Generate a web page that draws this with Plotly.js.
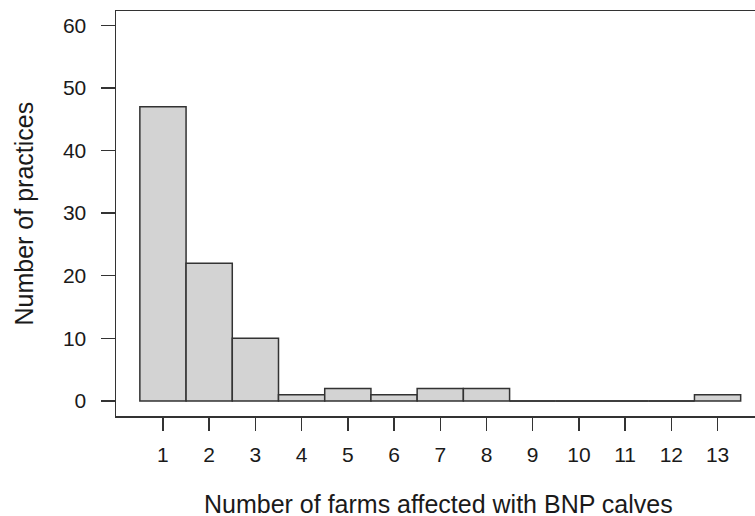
<!DOCTYPE html>
<html>
<head>
<meta charset="utf-8">
<script src="https://cdn.plot.ly/plotly-3.0.1.min.js"></script>
<style>html,body{margin:0;padding:0;background:#fff;}#chart{width:755px;height:516px;}</style>
</head>
<body>
<div id="chart"></div>
<script>
var farmsAffected = [1, 2, 3, 4, 5, 6, 7, 8, 9, 10, 11, 12, 13];
var practiceCounts = [47, 22, 10, 1, 2, 1, 2, 2, 0, 0, 0, 0, 1];
var yTickValues = [0, 10, 20, 30, 40, 50, 60];

var xTitle = 'Number of farms affected with BNP calves';
var yTitle = 'Number of practices';

// zero-height bars drawn as flat outlines at the baseline
var zx = [], zy = [];
farmsAffected.forEach(function (c, i) {
  if (practiceCounts[i] === 0) {
    zx.push(c - 0.5, c + 0.5, null);
    zy.push(0, 0, null);
  }
});

var lineColor = '#333333';
var textColor = '#1a1a1a';
var font = 'Liberation Sans, Arial, sans-serif';

var traces = [
  {
    type: 'bar',
    x: farmsAffected,
    y: practiceCounts,
    width: 1,
    marker: { color: '#d3d3d3', line: { color: lineColor, width: 1.5 } },
    hoverinfo: 'x+y'
  },
  {
    type: 'scatter',
    mode: 'lines',
    x: zx,
    y: zy,
    line: { color: lineColor, width: 1.5 },
    connectgaps: false,
    hoverinfo: 'skip'
  }
];

var layout = {
  width: 755,
  height: 516,
  margin: { l: 116, r: 0, t: 11, b: 100, pad: 0 },
  paper_bgcolor: '#ffffff',
  plot_bgcolor: '#ffffff',
  showlegend: false,
  font: { family: font, color: textColor, size: 21 },
  xaxis: {
    range: [-0.016, 13.81],
    tickmode: 'array',
    tickvals: farmsAffected,
    ticktext: farmsAffected.map(String),
    ticks: 'outside',
    ticklen: 13,
    tickwidth: 1.5,
    tickcolor: lineColor,
    ticklabelstandoff: 6,
    showline: true,
    linecolor: lineColor,
    linewidth: 1.5,
    mirror: true,
    showgrid: false,
    zeroline: false,
    tickfont: { family: font, size: 21, color: textColor },
    fixedrange: true
  },
  yaxis: {
    range: [-2.4, 62.28],
    tickmode: 'array',
    tickvals: yTickValues,
    ticktext: yTickValues.map(String),
    ticks: 'outside',
    ticklen: 14,
    tickwidth: 1.5,
    tickcolor: lineColor,
    ticklabelstandoff: 10,
    showline: true,
    linecolor: lineColor,
    linewidth: 1.5,
    mirror: false,
    showgrid: false,
    zeroline: false,
    tickfont: { family: font, size: 21, color: textColor },
    fixedrange: true
  },
  annotations: [
    {
      text: xTitle,
      xref: 'paper', yref: 'paper',
      x: (438.5 - 116) / 639, y: (416 - 504) / 405,
      xanchor: 'center', yanchor: 'middle',
      showarrow: false,
      font: { family: font, size: 25, color: textColor }
    },
    {
      text: yTitle,
      xref: 'paper', yref: 'paper',
      x: (23 - 116) / 639, y: (416 - 213.5) / 405,
      xanchor: 'center', yanchor: 'middle',
      textangle: -90,
      showarrow: false,
      font: { family: font, size: 25, color: textColor }
    }
  ]
};

Plotly.newPlot('chart', traces, layout, { displayModeBar: false, staticPlot: true });
</script>
</body>
</html>
